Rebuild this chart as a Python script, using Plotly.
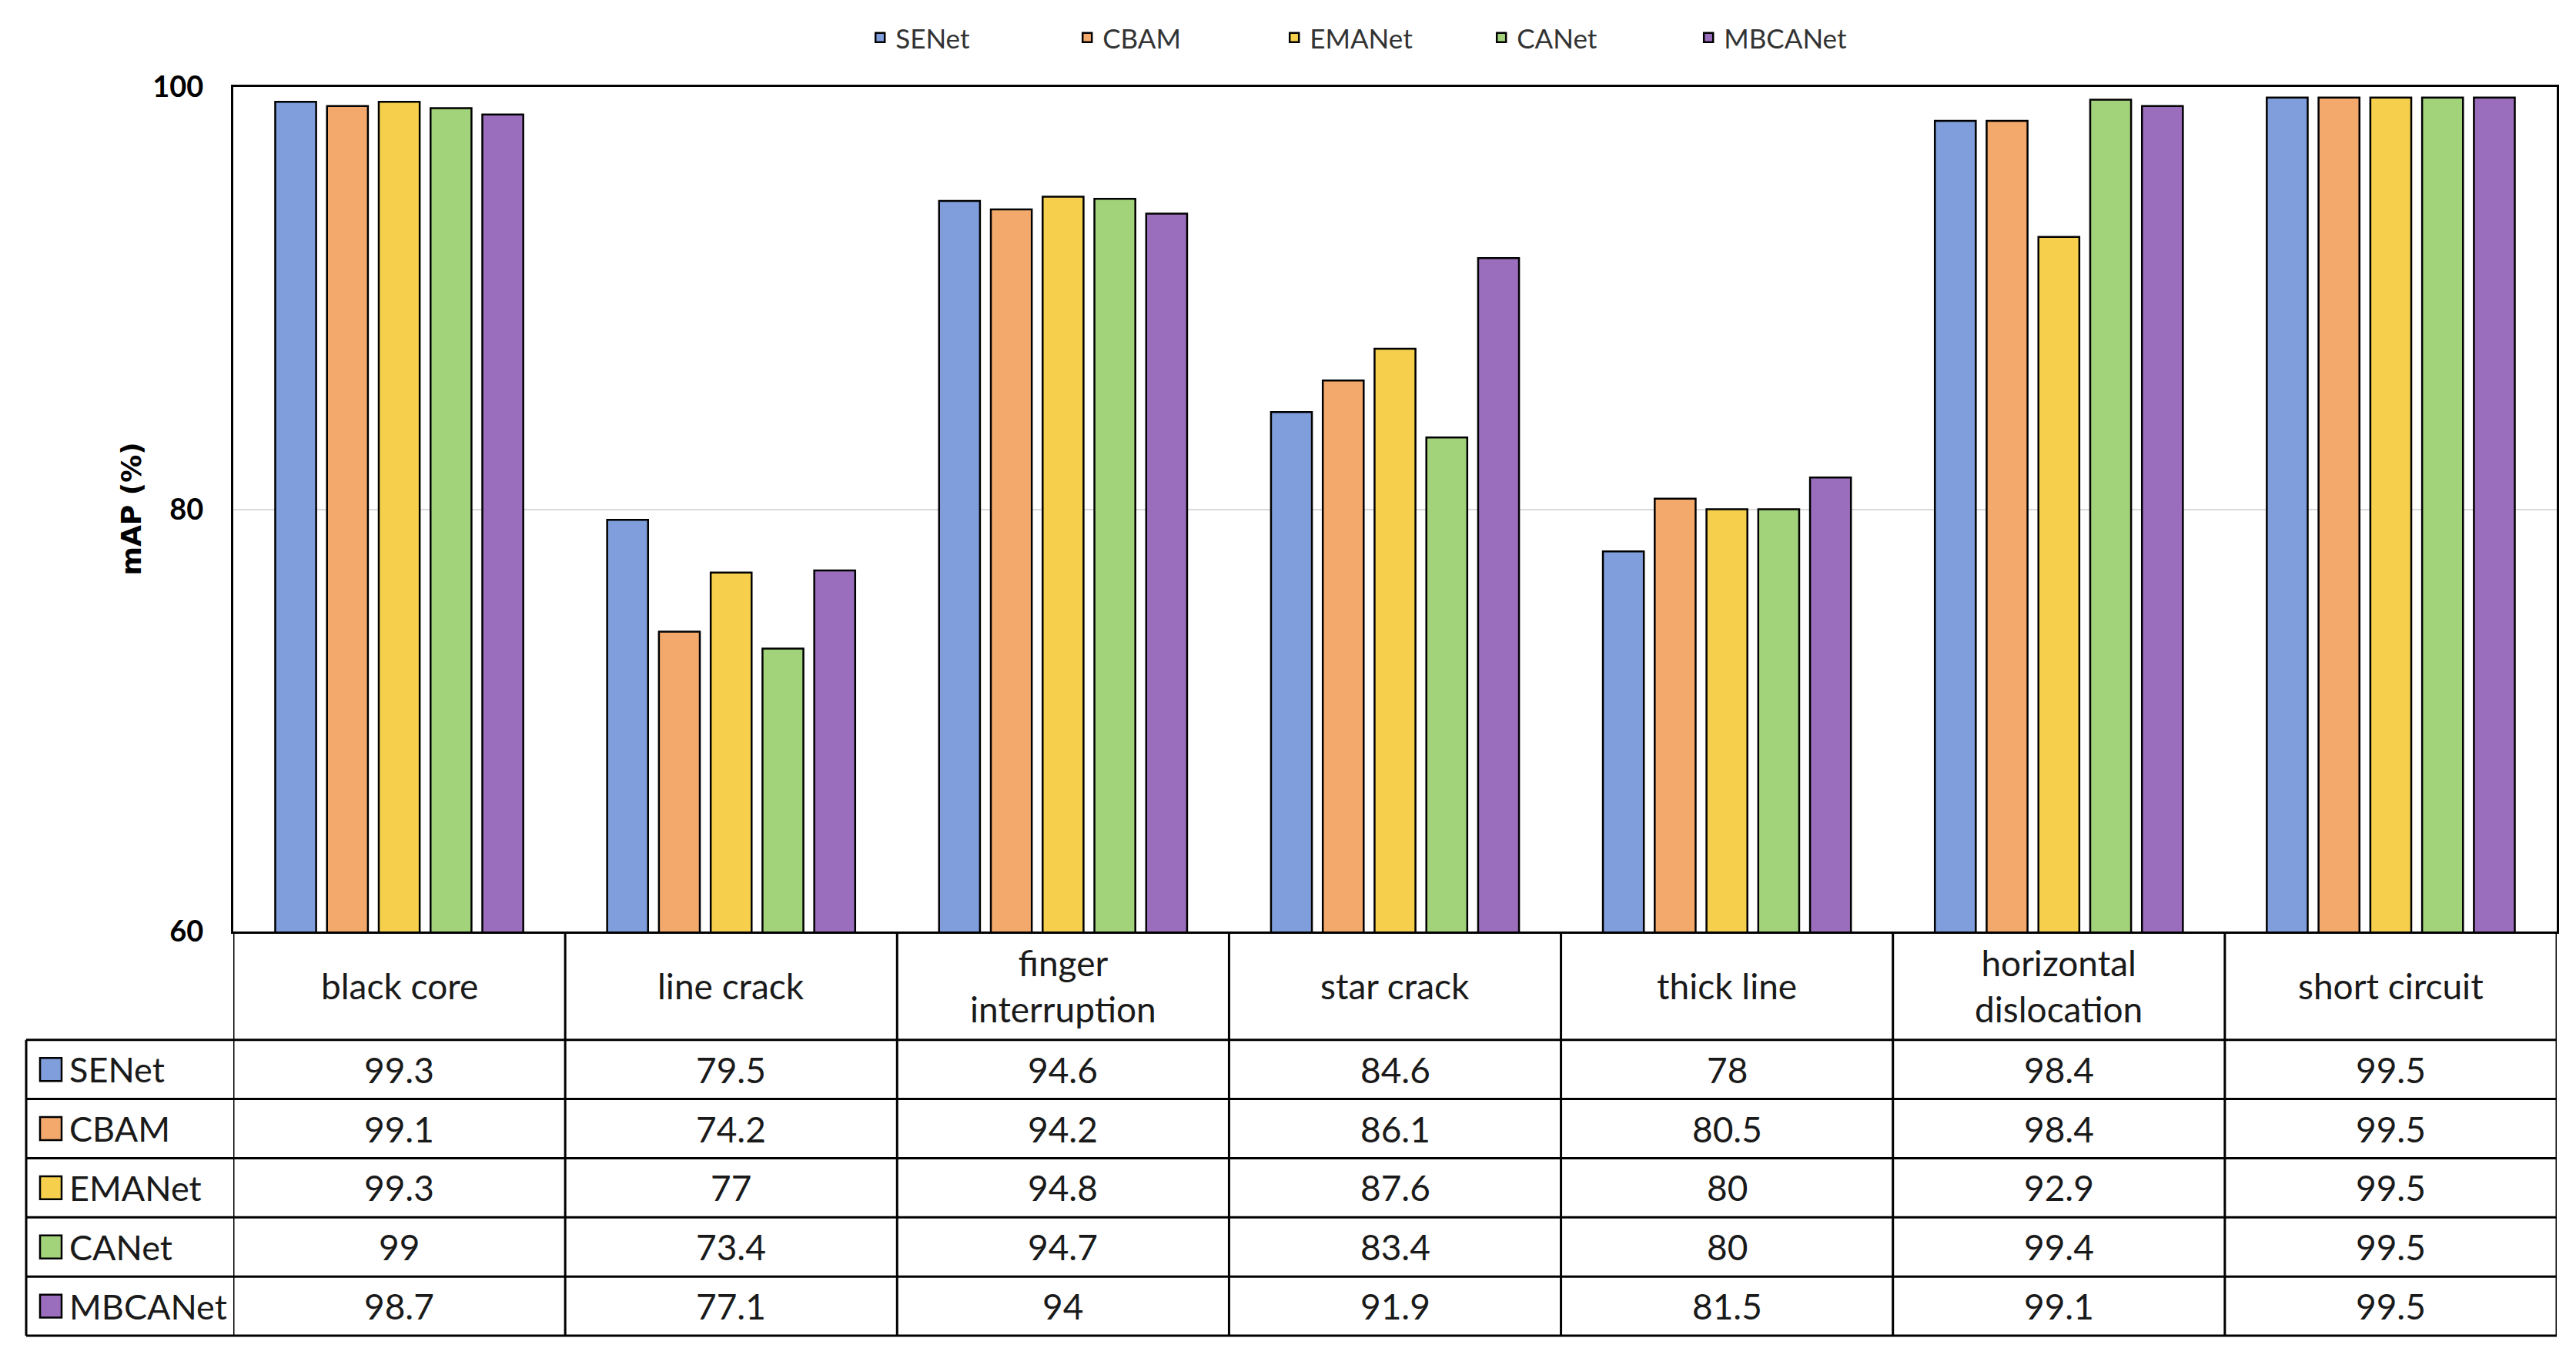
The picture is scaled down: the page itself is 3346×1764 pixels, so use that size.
import plotly.graph_objects as go

# ---------------- data ----------------
categories = ["black core", "line crack", "finger interruption", "star crack",
              "thick line", "horizontal dislocation", "short circuit"]
category_labels = ["black core", "line crack", "finger<br>interruption", "star crack",
                   "thick line", "horizontal<br>dislocation", "short circuit"]
series_names = ["SENet", "CBAM", "EMANet", "CANet", "MBCANet"]
senet = [99.3, 79.5, 94.6, 84.6, 78, 98.4, 99.5]
cbam = [99.1, 74.2, 94.2, 86.1, 80.5, 98.4, 99.5]
emanet = [99.3, 77, 94.8, 87.6, 80, 92.9, 99.5]
canet = [99, 73.4, 94.7, 83.4, 80, 99.4, 99.5]
mbcanet = [98.7, 77.1, 94, 91.9, 81.5, 99.1, 99.5]
series_values = [senet, cbam, emanet, canet, mbcanet]
y_ticks = [60, 80, 100]

# ---------------- style ----------------
colors = ["#7F9EDB", "#F3A86C", "#F6D04C", "#A2D27A", "#9B6EBD"]
W, H = 3346, 1764
OFF = 8                                    # page body margin
L, R, T, B = 303, 3321, 111, 1210          # plot area in page pixels
TABLE_LEFT = 34
HEADER_BOTTOM = 1351
ROW_H = 77
TXT = "#1A1A1A"
FONT = "Lato"


def py(p):
    return (B - p) / (B - T)


def px(p):
    return (p - L) / (R - L)


fig = go.Figure()
for name, vals, col in zip(series_names, series_values, colors):
    fig.add_trace(go.Bar(
        name=name, x=categories, y=vals,
        marker=dict(color=col, line=dict(color="black", width=2.5)),
    ))

shapes = []
annotations = []
n_rows = len(series_names)
table_bottom = HEADER_BOTTOM + n_rows * ROW_H

# vertical lines at category boundaries
for k in range(len(categories) + 1):
    shapes.append(dict(type="line", xref="x", yref="paper",
                       x0=k - 0.5, x1=k - 0.5, y0=0, y1=py(table_bottom),
                       line=dict(color="black", width=3)))
# left border of row-label column
shapes.append(dict(type="line", xref="paper", yref="paper",
                   x0=px(TABLE_LEFT), x1=px(TABLE_LEFT),
                   y0=py(HEADER_BOTTOM), y1=py(table_bottom),
                   line=dict(color="black", width=3)))
# horizontal lines
for r in range(n_rows + 1):
    yy = py(HEADER_BOTTOM + r * ROW_H)
    shapes.append(dict(type="line", xref="paper", yref="paper",
                       x0=px(TABLE_LEFT), x1=1, y0=yy, y1=yy,
                       line=dict(color="black", width=3)))

# header labels
for cat, lab in zip(categories, category_labels):
    annotations.append(dict(x=cat, xref="x", y=py((B + HEADER_BOTTOM) / 2), yref="paper",
                            text=lab, showarrow=False, xanchor="center", yanchor="middle",
                            font=dict(family=FONT, size=46, color=TXT)))

# data rows
for r, (name, vals, col) in enumerate(zip(series_names, series_values, colors)):
    yc = HEADER_BOTTOM + r * ROW_H + ROW_H / 2
    shapes.append(dict(type="rect", xref="paper", yref="paper",
                       x0=px(52), x1=px(80), y0=py(yc + 15), y1=py(yc - 15),
                       fillcolor=col, line=dict(color="black", width=2.5)))
    annotations.append(dict(x=px(88), xref="paper", y=py(yc), yref="paper",
                            text=name, showarrow=False, xanchor="left", yanchor="middle",
                            font=dict(family=FONT, size=45, color=TXT)))
    for cat, v in zip(categories, vals):
        annotations.append(dict(x=cat, xref="x", y=py(yc), yref="paper",
                                text=f"{v:g}", showarrow=False,
                                xanchor="center", yanchor="middle",
                                font=dict(family=FONT, size=46, color=TXT)))

# y-axis title
annotations.append(dict(x=px(170), xref="paper", y=0.5, yref="paper",
                        text="<b>mAP (%)</b>", textangle=-90, showarrow=False,
                        xanchor="center", yanchor="middle",
                        font=dict(family="DejaVu Sans", size=36, color="black")))

fig.update_layout(
    width=W - OFF, height=H - OFF,
    margin=dict(l=L - OFF, r=W - R, t=T - OFF, b=H - B, pad=0),
    paper_bgcolor="white", plot_bgcolor="white",
    barmode="group", bargap=0.22, bargroupgap=0.21,
    shapes=shapes, annotations=annotations,
    legend=dict(orientation="h", x=0.4946, xanchor="center", y=py(47), yanchor="middle",
                font=dict(family=FONT, size=35, color="#333333"),
                entrywidth=224, entrywidthmode="pixels",
                bgcolor="rgba(0,0,0,0)"),
    xaxis=dict(range=[-0.5, len(categories) - 0.5], showticklabels=False, ticks="",
               showgrid=False, showline=True, linecolor="black", linewidth=3, mirror=True,
               zeroline=False),
    yaxis=dict(range=[60, 100], tickvals=y_ticks,
               ticktext=[f"<b>{t}</b>" for t in y_ticks],
               tickfont=dict(family=FONT, size=38, color="black"),
               ticks="", ticklabelstandoff=28,
               showgrid=True, gridcolor="#D9D9D9", gridwidth=2,
               showline=True, linecolor="black", linewidth=3, mirror=True,
               zeroline=False),
)

fig.write_html("out.html")
